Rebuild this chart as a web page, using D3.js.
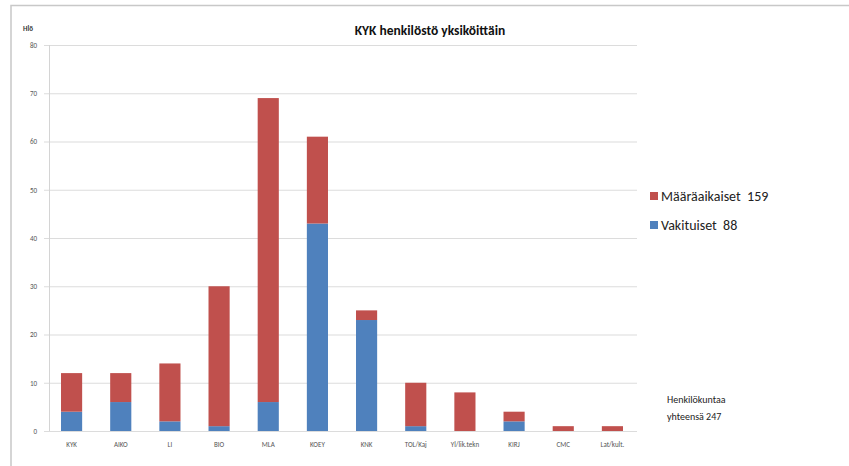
<!DOCTYPE html>
<html>
<head>
<meta charset="utf-8">
<script src="https://cdn.jsdelivr.net/npm/d3@7"></script>
<style>
  body { margin: 0; background: #fff; }
  text { font-family: Calibri, "Liberation Sans", "DejaVu Sans", sans-serif; white-space: pre; }
</style>
</head>
<body>
<svg width="849" height="466"></svg>
<script>
// Data
var units = ['KYK', 'AIKO', 'LI', 'BIO', 'MLA', 'KOEY', 'KNK', 'TOL/Kaj', 'Yl/lik.tekn', 'KIRJ', 'CMC', 'Lat/kult.'];
var vakituiset = [4, 6, 2, 1, 6, 43, 23, 1, 0, 2, 0, 0];
var maaraaikaiset = [8, 6, 12, 29, 63, 18, 2, 9, 8, 2, 1, 1];
var yTicks = [0, 10, 20, 30, 40, 50, 60, 70, 80];
var seriesNames = ['Määräaikaiset  159', 'Vakituiset  88'];
var colors = { vak: '#4f81bd', maa: '#c0504d' };

var svg = d3.select('svg');

// Plot area
var margin = { left: 47, right: 212, top: 45, bottom: 35 };
var width = 849 - margin.left - margin.right;
var height = 466 - margin.top - margin.bottom;

// Outer frame (only top and left edges show)
svg.append('path')
  .attr('d', 'M11,466 V5.5 H849')
  .attr('fill', 'none')
  .attr('stroke', '#c8c8c8')
  .attr('stroke-width', 1.5);

var x = d3.scaleBand().domain(units).range([0, width]).paddingInner(0.57).paddingOuter(0.285);
var y = d3.scaleLinear().domain([0, 80]).range([height, 0]);

var g = svg.append('g')
  .attr('transform', 'translate(' + margin.left + ',' + margin.top + ')');

// Gridlines
g.selectAll('.grid')
  .data(yTicks)
  .enter().append('line')
  .attr('x1', -3)
  .attr('x2', width)
  .attr('y1', function (d) { return y(d) + 0.5; })
  .attr('y2', function (d) { return y(d) + 0.5; })
  .attr('stroke', '#dcdcdc')
  .attr('stroke-width', 1.2);

// Y axis line
g.append('line')
  .attr('x1', 2.5).attr('x2', 2.5)
  .attr('y1', 0).attr('y2', height)
  .attr('stroke', '#d4d4d4');

// Y tick labels
var yAxis = d3.axisLeft(y).tickValues(yTicks).tickSize(0).tickPadding(10);
g.append('g')
  .call(yAxis)
  .call(function (s) { s.select('.domain').remove(); })
  .selectAll('text')
  .attr('font-size', 7)
  .attr('fill', '#555');

// Stacked bars
var stack = units.map(function (u, i) {
  return { unit: u, vak: vakituiset[i], maa: maaraaikaiset[i] };
});

g.selectAll('.vak')
  .data(stack)
  .enter().append('rect')
  .attr('x', function (d) { return x(d.unit); })
  .attr('width', x.bandwidth())
  .attr('y', function (d) { return y(d.vak); })
  .attr('height', function (d) { return y(0) - y(d.vak); })
  .attr('fill', colors.vak);

g.selectAll('.maa')
  .data(stack)
  .enter().append('rect')
  .attr('x', function (d) { return x(d.unit); })
  .attr('width', x.bandwidth())
  .attr('y', function (d) { return y(d.vak + d.maa); })
  .attr('height', function (d) { return y(d.vak) - y(d.vak + d.maa); })
  .attr('fill', colors.maa);

// X axis labels
var xAxis = d3.axisBottom(x).tickSize(0).tickPadding(11);
g.append('g')
  .attr('transform', 'translate(0,' + height + ')')
  .call(xAxis)
  .call(function (s) { s.select('.domain').remove(); })
  .selectAll('text')
  .attr('font-size', 7)
  .attr('fill', '#555');

// Title and unit label
svg.append('text')
  .attr('x', 430).attr('y', 35)
  .attr('text-anchor', 'middle')
  .attr('font-size', 13.5)
  .attr('font-weight', 'bold')
  .attr('fill', '#111')
  .text('KYK henkilöstö yksiköittäin');

svg.append('text')
  .attr('x', 23).attr('y', 31)
  .attr('font-size', 7)
  .attr('font-weight', 'bold')
  .attr('fill', '#333')
  .text('Hlö');

// Legend
var legend = svg.append('g').attr('transform', 'translate(650,196)');
[colors.maa, colors.vak].forEach(function (c, i) {
  legend.append('rect')
    .attr('x', 0).attr('y', i * 29 - 4)
    .attr('width', 8).attr('height', 8)
    .attr('fill', c);
  legend.append('text')
    .attr('x', 11).attr('y', i * 29 + 5)
    .attr('font-size', 14)
    .attr('fill', '#222')
    .text(seriesNames[i]);
});

// Footnote
svg.append('text')
  .attr('x', 667).attr('y', 403)
  .attr('font-size', 10)
  .attr('fill', '#222')
  .text('Henkilökuntaa');
svg.append('text')
  .attr('x', 667).attr('y', 420)
  .attr('font-size', 10)
  .attr('fill', '#222')
  .text('yhteensä 247');
</script>
</body>
</html>
